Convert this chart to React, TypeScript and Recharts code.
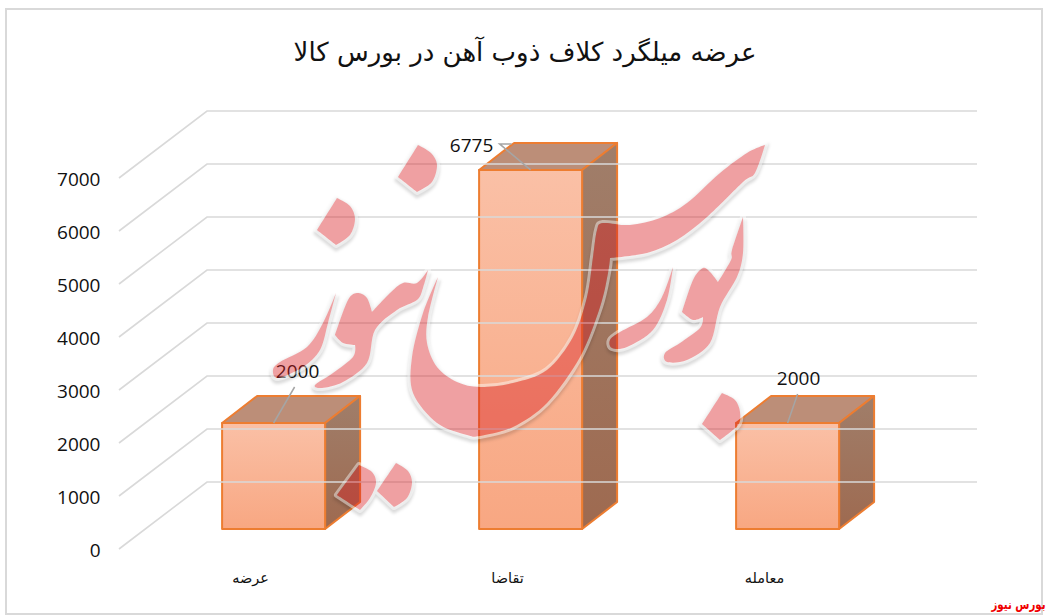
import React from "react";
import { ComposedChart, Bar, XAxis, YAxis, LabelList } from "recharts";

const W = 1050;
const H = 616;

const categories = ["عرضه", "تقاضا", "معامله"];
const values = [2000, 6775, 2000];
const yTicks = [0, 1000, 2000, 3000, 4000, 5000, 6000, 7000];
const titleText = "عرضه میلگرد کلاف ذوب آهن در بورس کالا";
const cornerText = "بورس نیوز";

const data = categories.map((name, i) => ({ name, value: values[i] }));

// 3D projection of the chart
const DEPTH_X = 35;
const DEPTH_Y = 27;
const BASE_LIFT = 20;
const ORANGE = "#ED7D31";
const GRID = "#d9d9d9";
const NUM_FONT = "'Open Sans', sans-serif";
const FA_FONT = "'DejaVu Sans', sans-serif";

// where each data label sits relative to the bar's front-top centre
const labelPlacement = [
  { dx: 24, dy: -52, line: [[21, -36], [0, 0]] },
  { dx: -59, dy: -25, line: [[-19, -26], [-31, -26], [0, 0]] },
  { dx: 11, dy: -45, line: [[10, -29], [0, 0]] },
];

// decorative watermark outlines (third value marks a sharp corner)
const wmBig = [[438,277,1],[423,313],[412,357],[413,393],[437,423],[467,435],[480,436],[513,427],[547,403],[580,357],[600,307],[608,273],[610,258,1],[647,253],[677,240],[707,217],[743,182],[755,173],[765,145,1],[747,153],[720,173],[687,203],[660,218],[630,225],[603,223],[597,230],[593,257],[587,297],[573,337],[547,370],[513,383],[480,387],[457,382],[437,367],[427,343],[428,317]];
const wmA = [[673,267,1],[662,297],[647,317],[620,332],[610,340],[612,348],[627,347],[653,330],[667,300]];
const wmB = [[743,217,1],[732,250],[731,260],[718,282,1],[710,272],[703,268],[693,280],[682,312,1],[693,320],[703,317,1],[700,328],[680,343],[665,353],[667,362],[687,360],[710,343],[720,307],[737,277],[743,253]];
const wmC = [[428,270,1],[417,283],[403,283],[390,293],[372,312,1],[367,298],[358,293],[348,300],[335,335,1],[343,343],[355,345,1],[353,357],[333,373],[315,385],[322,388],[343,382],[367,363],[375,330],[397,310],[417,300],[423,288]];
const wmD = [[336,293,1],[323,323],[307,347],[280,362],[273,370],[278,378],[303,367],[320,350],[328,323]];
const wmDot1 = [[418,145,1],[431,153],[437,165],[432,182],[417,192,1],[398,177,1]];
const wmDot2 = [[337,198,1],[350,206],[355,219],[350,235],[336,245,1],[317,230,1]];
const wmDot3 = [[359,465,1],[372,472],[376,483],[370,498],[360,510,1],[337,495,1]];
const wmDot4 = [[396,463,1],[408,471],[412,483],[407,498],[394,507,1],[377,491,1]];
const wmDot5 = [[722,393,1],[735,400],[740,412],[738,425],[720,440,1],[702,424,1]];
const wmShapes = [wmBig, wmA, wmB, wmC, wmD, wmDot1, wmDot2, wmDot3, wmDot4, wmDot5];

function smoothClosed(pts: number[][]) {
  const n = pts.length;
  const k = 0.16;
  let d = `M${pts[0][0]},${pts[0][1]}`;
  for (let i = 0; i < n; i++) {
    const p0 = pts[(i - 1 + n) % n];
    const p1 = pts[i];
    const p2 = pts[(i + 1) % n];
    const p3 = pts[(i + 2) % n];
    const k1 = p1[2] ? 0 : k;
    const k2 = p2[2] ? 0 : k;
    d += `C${p1[0] + (p2[0] - p0[0]) * k1},${p1[1] + (p2[1] - p0[1]) * k1} ${p2[0] - (p3[0] - p1[0]) * k2},${p2[1] - (p3[1] - p1[1]) * k2} ${p2[0]},${p2[1]}`;
  }
  return d + "Z";
}
const wmPath = wmShapes.map(smoothClosed).join(" ");

function Bar3D(props: any) {
  const { x, y, width, height } = props;
  const top = y - BASE_LIFT;
  const bottom = top + height;
  const right = x + width;
  return (
    <g stroke={ORANGE} strokeWidth={2} strokeLinejoin="round">
      <polygon
        points={`${x},${top} ${x + DEPTH_X},${top - DEPTH_Y} ${right + DEPTH_X},${top - DEPTH_Y} ${right},${top}`}
        fill="#BC8E78"
      />
      <polygon
        points={`${right},${top} ${right + DEPTH_X},${top - DEPTH_Y} ${right + DEPTH_X},${bottom - DEPTH_Y} ${right},${bottom}`}
        fill="url(#sideFill)"
      />
      <rect x={x} y={top} width={width} height={height} fill="url(#frontFill)" />
    </g>
  );
}

function ValueLabel(props: any) {
  const { x, y, width, value, index } = props;
  const cx = x + width / 2;
  const top = y - BASE_LIFT;
  const place = labelPlacement[index];
  const pts = place.line.map(([a, b]) => `${cx + a},${top + b}`).join(" ");
  return (
    <g>
      <polyline points={pts} fill="none" stroke="#A5A5A5" strokeWidth={1.5} />
      <text
        x={cx + place.dx}
        y={top + place.dy}
        textAnchor="middle"
        dominantBaseline="central"
        fontFamily={NUM_FONT}
        fontSize={19}
        fill="#111"
      >
        {value}
      </text>
    </g>
  );
}

function YTick(props: any) {
  const { y, payload } = props;
  const backY = y - 67;
  return (
    <g>
      <polyline
        points={`119,${y} 207,${backY} 977,${backY}`}
        fill="none"
        stroke={GRID}
        strokeWidth={1.6}
      />
      <text
        x={100.5}
        y={y + 0.5}
        textAnchor="end"
        dominantBaseline="central"
        fontFamily={NUM_FONT}
        fontSize={19}
        fill="#111"
      >
        {payload.value}
      </text>
    </g>
  );
}

function XTick(props: any) {
  const { x, payload } = props;
  return (
    <text
      x={x - 23}
      y={578}
      textAnchor="middle"
      dominantBaseline="central"
      fontFamily={FA_FONT}
      fontSize={14.5}
      fill="#111"
      direction="rtl"
    >
      {payload.value}
    </text>
  );
}

export default function App() {
  return (
    <div style={{ position: "absolute", left: 0, top: 0, width: W, height: H, background: "#fff", overflow: "hidden" }}>
      <div
        style={{
          position: "absolute",
          left: 5,
          top: 8,
          width: 1034,
          height: 603,
          border: `2px solid ${GRID}`,
        }}
      />
      <div style={{ position: "absolute", left: 0, top: 0 }}>
        <ComposedChart
          width={W}
          height={H}
          data={data}
          margin={{ top: 178, right: 134, bottom: 0, left: 0 }}
          barCategoryGap="30%"
        >
          <defs>
            <linearGradient id="frontFill" x1="0" y1="0" x2="0" y2="1">
              <stop offset="0%" stopColor="#FAC0A6" />
              <stop offset="100%" stopColor="#F8A782" />
            </linearGradient>
            <linearGradient id="sideFill" x1="0" y1="0" x2="0" y2="1">
              <stop offset="0%" stopColor="#A07E6A" />
              <stop offset="100%" stopColor="#9E6A50" />
            </linearGradient>
          </defs>
          <YAxis
            type="number"
            domain={[0, 7000]}
            ticks={yTicks}
            width={145}
            axisLine={false}
            tickLine={false}
            tick={<YTick />}
            interval={0}
          />
          <XAxis
            dataKey="name"
            height={67}
            axisLine={false}
            tickLine={false}
            tick={<XTick />}
            interval={0}
          />
          <Bar dataKey="value" shape={<Bar3D />} isAnimationActive={false}>
            <LabelList dataKey="value" content={<ValueLabel />} />
          </Bar>
        </ComposedChart>
      </div>
      <svg width={W} height={H} style={{ position: "absolute", left: 0, top: 0, pointerEvents: "none" }}>
        <defs>
          <mask id="outside" maskUnits="userSpaceOnUse" x={0} y={0} width={W} height={H}>
            <rect width={W} height={H} fill="#fff" />
            <path d={wmPath} fill="#000" />
          </mask>
          <filter id="soft" x="-10%" y="-10%" width="120%" height="120%">
            <feGaussianBlur stdDeviation="1.6" />
          </filter>
        </defs>
        <g mask="url(#outside)">
          <path d={wmPath} transform="translate(0,3)" fill="none" stroke="#000" strokeOpacity={0.14} strokeWidth={6} filter="url(#soft)" />
          <path d={wmPath} fill="none" stroke="#fff" strokeOpacity={0.45} strokeWidth={6} strokeLinejoin="round" />
        </g>
        <path d={wmPath} fill="rgb(217,29,34)" fillOpacity={0.42} />
        <text
          x={525}
          y={52}
          textAnchor="middle"
          dominantBaseline="central"
          fontFamily={FA_FONT}
          fontSize={26}
          fill="#111"
          direction="rtl"
        >
          {titleText}
        </text>
        <text
          transform="translate(1018.5,604) scale(0.76,1)"
          x={0}
          y={0}
          textAnchor="middle"
          dominantBaseline="central"
          fontFamily={FA_FONT}
          fontWeight="bold"
          fontSize={13.5}
          fill="#f00000"
          direction="rtl"
        >
          {cornerText}
        </text>
      </svg>
    </div>
  );
}
